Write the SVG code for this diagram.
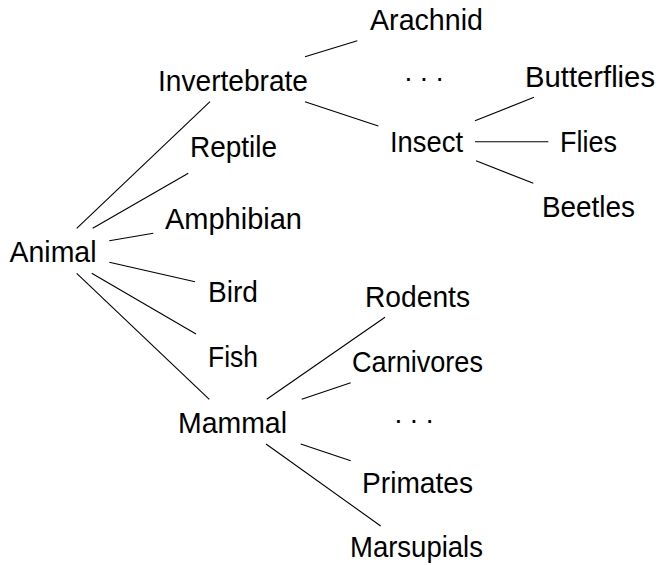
<svg xmlns="http://www.w3.org/2000/svg" width="659" height="565" viewBox="0 0 659 565">
<style>
text{font-family:"Liberation Sans","DejaVu Sans",sans-serif;font-size:30px;fill:#000;text-anchor:middle}
.e line{stroke:#000;stroke-width:1.1;fill:none}
</style>
<rect width="659" height="565" fill="#fff"/>
<g class="e" id="connectors">
<line x1="76.7" y1="228.3" x2="210" y2="101.7"/>
<line x1="92.7" y1="228.3" x2="188.3" y2="173.3"/>
<line x1="109.3" y1="240.7" x2="153.3" y2="233.3"/>
<line x1="109.3" y1="262.3" x2="195" y2="281.7"/>
<line x1="91.7" y1="273.3" x2="196" y2="334"/>
<line x1="76.7" y1="273.3" x2="209.3" y2="399.3"/>
<line x1="305" y1="56.7" x2="357.3" y2="40.7"/>
<line x1="305" y1="101.7" x2="378.3" y2="126"/>
<line x1="475" y1="120.7" x2="534" y2="97.3"/>
<line x1="475" y1="141.7" x2="548.3" y2="141.7"/>
<line x1="476" y1="160.7" x2="533.3" y2="183.3"/>
<line x1="266.7" y1="399.3" x2="385" y2="317.3"/>
<line x1="301.7" y1="399.3" x2="350.7" y2="382.7"/>
<line x1="300.7" y1="444" x2="350.7" y2="460.7"/>
<line x1="266" y1="444" x2="380.7" y2="526"/>
</g>
<g id="animal"><text x="53" y="261.5" textLength="87" lengthAdjust="spacingAndGlyphs">Animal</text></g>
<g id="invertebrate"><text x="233" y="91" textLength="150" lengthAdjust="spacingAndGlyphs">Invertebrate</text></g>
<g id="reptile"><text x="233.5" y="157" textLength="87" lengthAdjust="spacingAndGlyphs">Reptile</text></g>
<g id="amphibian"><text x="233.5" y="229" textLength="137" lengthAdjust="spacingAndGlyphs">Amphibian</text></g>
<g id="bird"><text x="233" y="302" textLength="50" lengthAdjust="spacingAndGlyphs">Bird</text></g>
<g id="fish"><text x="233" y="367" textLength="50" lengthAdjust="spacingAndGlyphs">Fish</text></g>
<g id="mammal"><text x="232.5" y="433" textLength="109" lengthAdjust="spacingAndGlyphs">Mammal</text></g>
<g id="arachnid"><text x="426.5" y="30" textLength="113" lengthAdjust="spacingAndGlyphs">Arachnid</text></g>
<g id="dots1"><text x="424" y="80.5" style="font-size:28px">. . .</text></g>
<g id="insect"><text x="426.5" y="152" textLength="73" lengthAdjust="spacingAndGlyphs">Insect</text></g>
<g id="butterflies"><text x="590" y="86.5" textLength="130" lengthAdjust="spacingAndGlyphs">Butterflies</text></g>
<g id="flies"><text x="588.5" y="152" textLength="57" lengthAdjust="spacingAndGlyphs">Flies</text></g>
<g id="beetles"><text x="588.5" y="217" textLength="93" lengthAdjust="spacingAndGlyphs">Beetles</text></g>
<g id="rodents"><text x="417.5" y="307" textLength="105" lengthAdjust="spacingAndGlyphs">Rodents</text></g>
<g id="carnivores"><text x="417.5" y="372" textLength="131" lengthAdjust="spacingAndGlyphs">Carnivores</text></g>
<g id="dots2"><text x="414" y="423" style="font-size:28px">. . .</text></g>
<g id="primates"><text x="417.5" y="493" textLength="111" lengthAdjust="spacingAndGlyphs">Primates</text></g>
<g id="marsupials"><text x="416.5" y="557" textLength="133" lengthAdjust="spacingAndGlyphs">Marsupials</text></g>
</svg>
